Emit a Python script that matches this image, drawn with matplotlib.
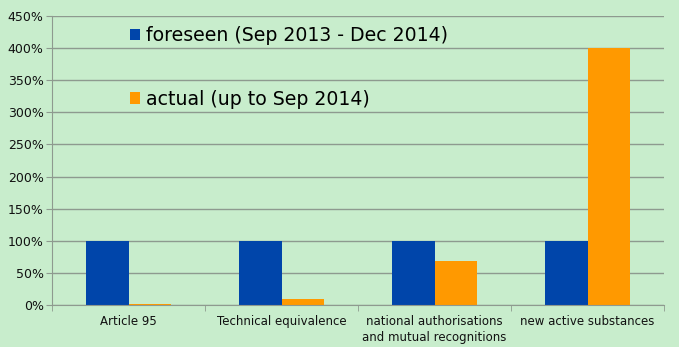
import matplotlib
matplotlib.use("Agg")
import matplotlib.pyplot as plt
import numpy as np
from matplotlib.ticker import FixedLocator, PercentFormatter

categories = ["Article 95", "Technical equivalence",
              "national authorisations\nand mutual recognitions",
              "new active substances"]
foreseen = [100, 100, 100, 100]
actual = [2, 10, 68, 400]
series_labels = ["foreseen (Sep 2013 - Dec 2014)", "actual (up to Sep 2014)"]
yticks = list(range(0, 451, 50))

bg = "#C8EDCC"
blue = "#0045AA"
orange = "#FF9900"
grid = "#8E9A8F"

plt.rcParams["font.family"] = ["DejaVu Sans"]

fig = plt.figure(figsize=(6.79, 3.47), dpi=100, facecolor=bg)
ax = fig.add_axes([0.0766, 0.121, 0.9014, 0.833], facecolor=bg)

x = np.arange(len(categories))
w = 0.28
ax.bar(x - w / 2, foreseen, w, color=blue, label=series_labels[0], zorder=3)
ax.bar(x + w / 2, actual, w, color=orange, label=series_labels[1], zorder=3)

ax.set_xlim(-0.5, len(categories) - 0.5)
ax.set_ylim(0, 450)
ax.set_yticks(yticks)
ax.yaxis.set_major_formatter(PercentFormatter(decimals=0))
ax.yaxis.grid(True, color=grid, linewidth=1.0, zorder=0)

ax.set_xticks(x)
ax.set_xticklabels(categories, fontsize=8.5, color="#111111", linespacing=1.3)
ax.tick_params(axis="x", length=0, pad=7)
ax.xaxis.set_minor_locator(FixedLocator(np.arange(-0.5, len(categories), 1.0)))
ax.tick_params(axis="x", which="minor", length=4, color=grid, direction="out")
ax.tick_params(axis="y", labelsize=9, color=grid, length=4, pad=2, labelcolor="#111111")

for side in ("top", "right"):
    ax.spines[side].set_visible(False)
for side in ("left", "bottom"):
    ax.spines[side].set_color(grid)
    ax.spines[side].set_zorder(4)

ax.legend(loc="upper left", bbox_to_anchor=(0.115, 0.99), frameon=False,
          fontsize=13.6, handlelength=0.55, handleheight=0.55, handletextpad=0.3,
          labelspacing=2.35, borderaxespad=0)

fig.savefig("out.png", dpi=100, facecolor=bg)
